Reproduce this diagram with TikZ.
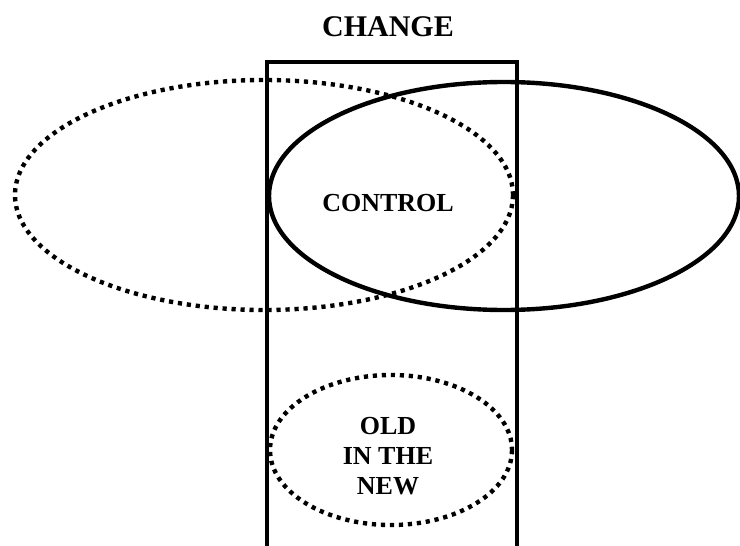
\documentclass[tikz,border=0pt]{standalone}
\usepackage{fontspec}
\setmainfont{Liberation Serif}
\begin{document}
\begin{tikzpicture}[x=1pt,y=-1pt,
  solidline/.style={line width=4.4pt},
  dotline/.style={line width=4.4pt, dash pattern=on 4.2pt off 4.8pt},
  lbl/.style={font=\bfseries\fontsize{26}{30}\selectfont, align=center, inner sep=0pt}]
\useasboundingbox (0,0) rectangle (740,546);
% change column (open at the bottom)
\coordinate (rbl) at (267,546);
\coordinate (rtl) at (267,62);
\coordinate (rtr) at (517,62);
\coordinate (rbr) at (517,546);
\draw[solidline, line join=miter] (rbl) -- (rtl) -- (rtr) -- (rbr);
% ellipses
\draw[dotline] (264,195) ellipse [x radius=249, y radius=115];
\draw[solidline] (504,196) ellipse [x radius=235, y radius=114];
\draw[dotline] (391,450) ellipse [x radius=121, y radius=75];
% labels
\node[lbl, font=\bfseries\fontsize{30}{34}\selectfont] (change) at (388,27) {CHANGE};
\node[lbl] (control) at (388,203) {CONTROL};
\node[lbl] (old) at (388,456) {OLD\\IN THE\\NEW};
\end{tikzpicture}
\end{document}
